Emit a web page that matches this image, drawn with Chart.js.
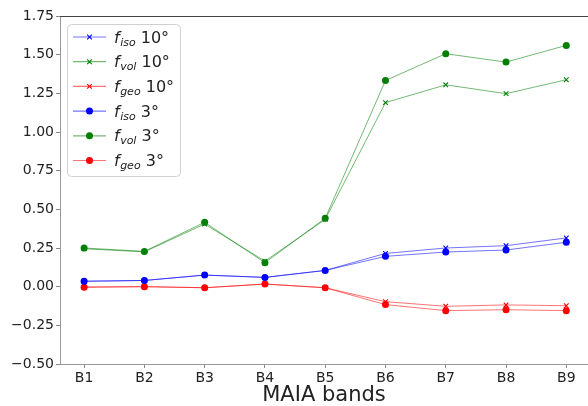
<!DOCTYPE html>
<html>
<head>
<meta charset="utf-8">
<script src="https://cdn.jsdelivr.net/npm/chart.js@4.4.0/dist/chart.umd.min.js"></script>
<style>
  html, body { margin: 0; padding: 0; background: #fff; overflow: hidden; }
  #wrap { position: relative; width: 588px; height: 406px; }
  canvas { display: block; }
</style>
</head>
<body>
<div id="wrap"><canvas id="chart" width="588" height="406"></canvas></div>
<script>
// bands on the x axis
const bands = ['B1', 'B2', 'B3', 'B4', 'B5', 'B6', 'B7', 'B8', 'B9'];
const yTicks = [-0.5, -0.25, 0, 0.25, 0.5, 0.75, 1.0, 1.25, 1.5, 1.75];

// kernel weights, 10 degree run
const fIso10 = [0.035, 0.04, 0.075, 0.06, 0.105, 0.215, 0.25, 0.265, 0.315];
const fVol10 = [0.245, 0.225, 0.405, 0.165, 0.435, 1.19, 1.305, 1.248, 1.338];
const fGeo10 = [-0.003, 0.0, -0.007, 0.017, -0.007, -0.097, -0.127, -0.118, -0.123];

// kernel weights, 3 degree run
const fIso3 = [0.035, 0.04, 0.075, 0.06, 0.105, 0.196, 0.224, 0.237, 0.287];
const fVol3 = [0.25, 0.228, 0.416, 0.155, 0.442, 1.333, 1.506, 1.452, 1.56];
const fGeo3 = [-0.003, 0.0, -0.007, 0.017, -0.007, -0.116, -0.155, -0.149, -0.155];

const BLUE = '#0000ff', GREEN = '#008000', RED = '#ff0000';

function fade(hex, a) {
  const r = parseInt(hex.slice(1, 3), 16), g = parseInt(hex.slice(3, 5), 16), b = parseInt(hex.slice(5, 7), 16);
  return `rgba(${r},${g},${b},${a})`;
}

function series(values, color, sub, angle, cross) {
  return {
    label: 'f' + sub + ' ' + angle,
    sub: sub,
    angle: angle,
    data: values.map((v, i) => ({ x: i, y: v })),
    borderColor: fade(color, 0.55),
    borderWidth: 1,
    backgroundColor: color,
    pointStyle: cross ? 'crossRot' : 'circle',
    pointRadius: cross ? 3.3 : 3.5,
    pointBorderWidth: cross ? 1.1 : 0,
    pointBorderColor: color,
    pointBackgroundColor: color,
    pointHoverRadius: 4,
    order: cross ? 2 : 1,
    tension: 0
  };
}

const datasets = [
  series(fIso10, BLUE, 'iso', '10°', true),
  series(fVol10, GREEN, 'vol', '10°', true),
  series(fGeo10, RED, 'geo', '10°', true),
  series(fIso3, BLUE, 'iso', '3°', false),
  series(fVol3, GREEN, 'vol', '3°', false),
  series(fGeo3, RED, 'geo', '3°', false)
];

const FONT = "'DejaVu Sans', sans-serif";

// top spine (bottom/left come from the axis borders)
const frame = {
  id: 'frame',
  afterDraw(chart) {
    const { ctx, chartArea: a } = chart;
    ctx.save();
    ctx.strokeStyle = '#444';
    ctx.lineWidth = 1;
    ctx.beginPath();
    ctx.moveTo(a.left, a.top + 0.5);
    ctx.lineTo(a.right, a.top + 0.5);
    ctx.stroke();
    ctx.restore();
  }
};

// legend with subscripted labels
const subLegend = {
  id: 'subLegend',
  afterDraw(chart) {
    const ctx = chart.ctx;
    const box = { x: 67.5, y: 24.5, w: 113, h: 152, r: 4 };
    ctx.save();
    ctx.fillStyle = 'rgba(255,255,255,0.8)';
    ctx.strokeStyle = '#d0d0d0';
    ctx.lineWidth = 1;
    ctx.beginPath();
    ctx.roundRect(box.x, box.y, box.w, box.h, box.r);
    ctx.fill();
    ctx.stroke();

    chart.data.datasets.forEach((ds, i) => {
      const y = 37 + i * 24.7;
      ctx.strokeStyle = ds.borderColor;
      ctx.lineWidth = 1.2;
      ctx.beginPath();
      ctx.moveTo(73, y);
      ctx.lineTo(106, y);
      ctx.stroke();

      ctx.fillStyle = ds.pointBackgroundColor;
      ctx.strokeStyle = ds.pointBorderColor;
      ctx.lineWidth = ds.pointBorderWidth;
      Chart.helpers.drawPoint(ctx, {
        pointStyle: ds.pointStyle,
        radius: ds.pointRadius,
        borderWidth: ds.pointBorderWidth,
        rotation: 0
      }, 89.5, y);

      ctx.fillStyle = '#222';
      ctx.textBaseline = 'alphabetic';
      let x = 114;
      const base = y + 5.5;
      ctx.font = `italic 16px ${FONT}`;
      ctx.fillText('f', x, base);
      x += ctx.measureText('f').width + 0.5;
      ctx.font = `italic 11px ${FONT}`;
      ctx.fillText(ds.sub, x, base + 3);
      x += ctx.measureText(ds.sub).width;
      ctx.font = `16px ${FONT}`;
      ctx.fillText(' ' + ds.angle, x, base);
    });
    ctx.restore();
  }
};

new Chart(document.getElementById('chart'), {
  type: 'line',
  data: { datasets },
  options: {
    responsive: false,
    animation: false,
    layout: { autoPadding: false, padding: { top: 16, right: 0, left: 0, bottom: 0 } },
    plugins: {
      legend: { display: false },
      tooltip: { enabled: false }
    },
    scales: {
      x: {
        type: 'linear',
        min: -0.4,
        max: 8.36,
        afterFit(scale) {
          scale.height = 42;
          scale.paddingLeft = 0;
          scale.paddingRight = 0;
        },
        afterBuildTicks(scale) { scale.ticks = bands.map((_, i) => ({ value: i })); },
        grid: { drawOnChartArea: false, tickLength: 4, color: '#888' },
        border: { color: '#999', width: 1 },
        ticks: {
          padding: 2,
          color: '#222',
          font: { family: FONT, size: 14 },
          maxRotation: 0,
          autoSkip: false,
          callback: (v) => bands[v]
        },
        title: {
          display: true,
          text: 'MAIA bands',
          color: '#222',
          font: { family: FONT, size: 21, lineHeight: 1.0 },
          padding: { top: 0, bottom: 0 }
        }
      },
      y: {
        min: -0.5,
        max: 1.75,
        afterFit(scale) {
          scale.width = 60;
          scale.paddingTop = 0;
          scale.paddingBottom = 0;
        },
        afterBuildTicks(scale) { scale.ticks = yTicks.map(v => ({ value: v })); },
        grid: { drawOnChartArea: false, tickLength: 4, color: '#888' },
        border: { color: '#999', width: 1 },
        ticks: {
          padding: 2,
          color: '#222',
          font: { family: FONT, size: 14 },
          callback: (v) => v.toFixed(2).replace('-', '\u2212')
        }
      }
    }
  },
  plugins: [frame, subLegend]
});
</script>
</body>
</html>
